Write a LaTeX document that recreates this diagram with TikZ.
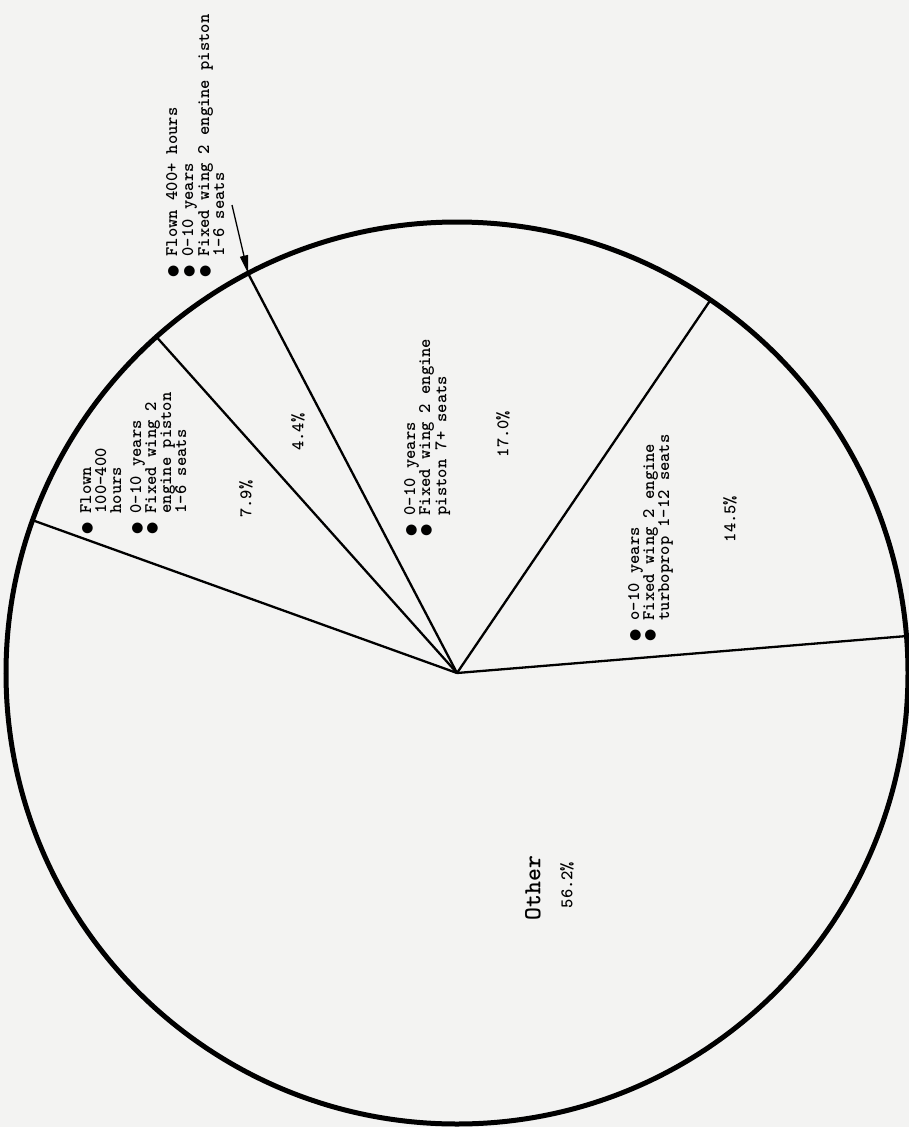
\documentclass[tikz,border=0pt]{standalone}
\usepackage{fontspec}
\newfontfamily\dotfont{DejaVu Sans}
\usepackage{tikz}
\usetikzlibrary{calc}
\usetikzlibrary{arrows.meta}
\definecolor{paper}{RGB}{243,243,242}
\tikzset{rim/.style={line width=5pt}}
\tikzset{cut/.style={line width=2.3pt}}
\tikzset{l/.style={font=\ttfamily\bfseries\fontsize{17.7}{15}\selectfont, rotate=90, inner sep=0pt}}
\tikzset{lb/.style={l, align=left, anchor=north west}}
\tikzset{big/.style={font=\ttfamily\bfseries\fontsize{24.5}{24}\selectfont, rotate=90, inner sep=0pt}}
\newcommand{\bul}{{\dotfont\fontsize{14}{14}\selectfont\char"25CF}\ }
\newcommand{\nob}{\phantom{\bul}}

\begin{document}
\begin{tikzpicture}[x=1pt, y=-1pt]
    \fill[paper] (0,0) rectangle (909,1127);
    \useasboundingbox (0,0) rectangle (909,1127);
    \coordinate (O) at (457,673);
    \coordinate (P1) at ($(O)+(160.2:451pt)$);
    \coordinate (P2) at ($(O)+(131.8:451pt)$);
    \coordinate (P3) at ($(O)+(117.6:451pt)$);
    \coordinate (P4) at ($(O)+(55.8:451pt)$);
    \coordinate (P5) at ($(O)+(4.7:451pt)$);
    \coordinate (tail) at (232,205);
    \draw[cut] (O) -- (P1);
    \draw[cut] (O) -- (P2);
    \draw[cut] (O) -- (P3);
    \draw[cut] (O) -- (P4);
    \draw[cut] (O) -- (P5);
    \draw[rim] (O) circle [radius=451pt];
    % labels
    \node[lb] (lA) at (166,278) {\bul Flown 400+ hours\\[1pt] \bul 0-10 years\\[1pt] \bul Fixed wing 2 engine piston\\ \nob 1-6 seats};
    \draw[-{Triangle[length=18pt,width=8pt]}, line width=1.3pt] (tail) -- (P3);
    \node[lb] (lB) at (80,535) {\bul Flown\\ \nob 100-400\\ \nob hours\\[5pt] \bul 0-10 years\\ \bul Fixed wing 2\\ \nob engine piston\\ \nob 1-6 seats};
    \node[lb] (lC) at (404,537) {\bul 0-10 years\\ \bul Fixed wing 2 engine\\ \nob piston 7+ seats};
    \node[lb] (lD) at (628,642) {\bul o-10 years\\ \bul Fixed wing 2 engine\\ \nob turboprop 1-12 seats};
    \node[l] (pB) at (246,499) {7.9\%};
    \node[l] (pA) at (298,432) {4.4\%};
    \node[l] (pC) at (503,434) {17.0\%};
    \node[l] (pD) at (730,519) {14.5\%};
    \node[big] (oth) at (533,888) {Other};
    \node[l] (pE) at (567,885) {56.2\%};
\end{tikzpicture}
\end{document}
